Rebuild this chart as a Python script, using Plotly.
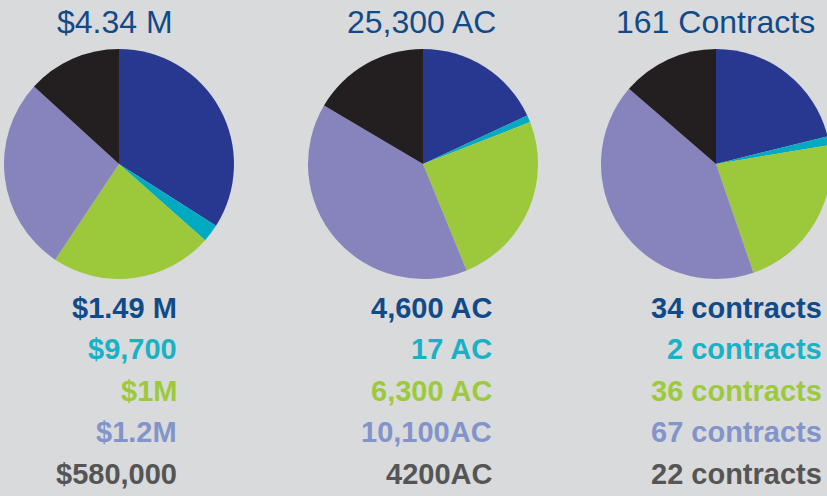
import plotly.graph_objects as go

# ---- data ----
titles = ["$4.34 M", "25,300 AC", "161 Contracts"]
categories = ["Category 1", "Category 2", "Category 3", "Category 4", "Category 5"]
money_values = [1.49, 0.11, 1.0, 1.2, 0.58]          # $M (slice sizes as drawn)
acre_values = [4600, 250, 6300, 10100, 4200]         # AC (slice sizes as drawn)
contract_values = [34, 2, 36, 67, 22]                # contracts
money_labels = ["$1.49 M", "$9,700", "$1M", "$1.2M", "$580,000"]
acre_labels = ["4,600 AC", "17 AC", "6,300 AC", "10,100AC", "4200AC"]
contract_labels = ["34 contracts", "2 contracts", "36 contracts", "67 contracts", "22 contracts"]

slice_colors = ["#283891", "#00abc2", "#9bc93b", "#8784bd", "#231f20"]
text_colors = ["#114a88", "#18b2c6", "#9dca3b", "#8294c9", "#555555"]
BG = "#d9dadc"

W, H = 832, 496

# pie geometry in pixels: (center x, center y from top, radius)
pies = [(119, 164, 115), (423, 164, 115), (716, 164, 115)]
title_x = [115, 421, 715]
label_right = [179, 494, 824]
line_y = [308, 349, 391, 432, 474]

fig = go.Figure()
all_values = [money_values, acre_values, contract_values]
all_labels = [money_labels, acre_labels, contract_labels]
for (cx, cy, r), vals in zip(pies, all_values):
    fig.add_trace(go.Pie(
        labels=categories, values=vals, sort=False, direction="clockwise",
        rotation=0, textinfo="none", hoverinfo="label+value",
        marker=dict(colors=slice_colors, line=dict(width=0)),
        domain=dict(x=[(cx - r) / W, min(1, (cx + r) / W)],
                    y=[(H - cy - r) / H, (H - cy + r) / H]),
        showlegend=False,
    ))

annotations = []
for i in range(3):
    annotations.append(dict(
        text=titles[i], x=title_x[i] / W, y=1 - 22 / H, xref="paper", yref="paper",
        xanchor="center", yanchor="middle", showarrow=False,
        font=dict(family="Liberation Sans, Arial, sans-serif", size=32, color="#114a88")))
    for j, lab in enumerate(all_labels[i]):
        annotations.append(dict(
            text="<b>" + lab + "</b>", x=label_right[i] / W, y=1 - line_y[j] / H,
            xref="paper", yref="paper", xanchor="right", yanchor="middle",
            showarrow=False,
            font=dict(family="Liberation Sans, Arial, sans-serif", size=29,
                      color=text_colors[j])))

fig.update_layout(
    width=W, height=H, margin=dict(l=0, r=0, t=0, b=0),
    paper_bgcolor=BG, plot_bgcolor=BG, annotations=annotations,
)

fig.write_html(
    "out.html",
    config={"displayModeBar": False},
    post_script="document.body.style.margin='0';"
                "document.body.style.overflow='hidden';"
                "document.body.style.background='%s';" % BG,
)
